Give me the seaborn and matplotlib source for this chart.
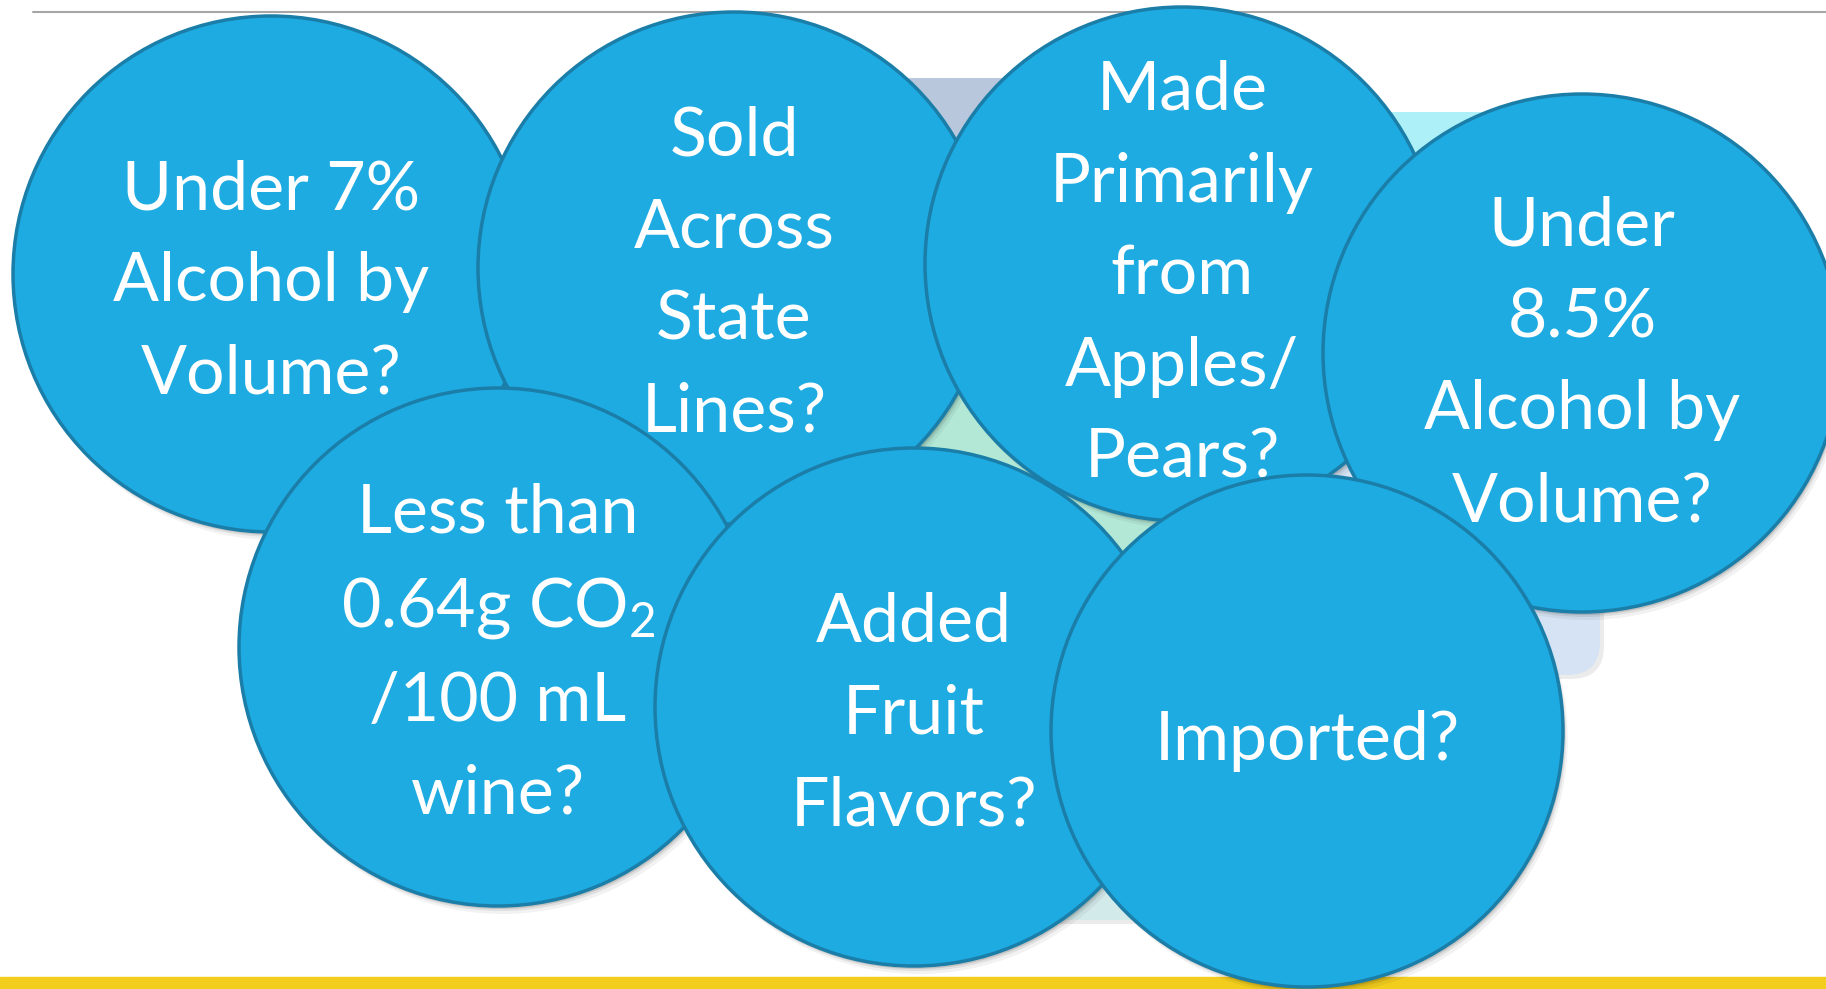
import numpy as np
import pandas as pd
import seaborn as sns
import matplotlib.pyplot as plt
from matplotlib.patches import Circle, FancyBboxPatch

# Labels for the seven bubbles (drawn in this order, later ones on top)
labels = [
    "Under 7%\nAlcohol by\nVolume?",
    "Sold\nAcross\nState\nLines?",
    "Made\nPrimarily\nfrom\nApples/\nPears?",
    "Under\n8.5%\nAlcohol by\nVolume?",
    "Less than\n0.64g CO$_\\mathregular{2}$\n/100 mL\nwine?",
    "Added\nFruit\nFlavors?",
    "Imported?",
]

# layout (pixel coordinates on a 1826x989 canvas)
center_x = [271, 734, 1182, 1582, 498, 914, 1307]
center_y = [274, 268, 264, 353, 647, 707, 731]
radius = [258, 256, 257, 259, 259, 259, 256]
text_y = [282, 275, 275, 364, 654, 715, 741]

# background blocks behind the bubbles
blocks = pd.DataFrame({
    "x0": [880, 1280, 870, 1250, 1000],
    "y0": [78, 112, 300, 440, 700],
    "x1": [1300, 1600, 1260, 1600, 1250],
    "y1": [520, 470, 820, 675, 920],
    "color": ["#b9c7dc", "#aef0f7", "#b3e8d6", "#d5e3f4", "#d3eaea"],
})

sns.set_theme(style="white")
plt.rcParams["font.family"] = ["Lato", "DejaVu Sans"]
plt.rcParams["mathtext.default"] = "regular"

fig = plt.figure(figsize=(18.26, 9.89), dpi=100)
ax = fig.add_axes([0, 0, 1, 1])
ax.set_xlim(0, 1826)
ax.set_ylim(989, 0)
ax.set_aspect("equal")
ax.axis("off")

# thin rule at the top and the yellow band at the bottom
ax.plot([33, 1826], [12, 12], color="#a6a6a6", lw=1.5, zorder=1)
ax.add_patch(plt.Rectangle((0, 977), 1826, 20, color="#f2cd1e", zorder=1))

for _, b in blocks.iterrows():
    ax.add_patch(FancyBboxPatch((b.x0 + 4, b.y0 + 4), b.x1 - b.x0, b.y1 - b.y0,
                                boxstyle="round,pad=0,rounding_size=33",
                                fc="black", alpha=0.08, lw=0, zorder=2))
    ax.add_patch(FancyBboxPatch((b.x0, b.y0), b.x1 - b.x0, b.y1 - b.y0,
                                boxstyle="round,pad=0,rounding_size=33",
                                fc=b.color, lw=0, zorder=2))

fill = "#1eabe2"
edge = "#1a7ea8"
for i, lab in enumerate(labels):
    z = 10 + i * 3
    cx, cy, r = center_x[i], center_y[i], radius[i]
    # soft drop shadow
    for off, a in [(8, 0.05), (5, 0.08), (3, 0.12)]:
        ax.add_patch(Circle((cx + off * 0.6, cy + off), r, fc="black",
                            alpha=a, lw=0, zorder=z))
    ax.add_patch(Circle((cx, cy), r, fc=fill, ec=edge, lw=2.5, zorder=z + 1))
    ax.text(cx, text_y[i], lab, color="white", fontsize=49, ha="center",
            va="center", multialignment="center", linespacing=1.6,
            zorder=z + 2)

fig.savefig("out.png", dpi=100)
